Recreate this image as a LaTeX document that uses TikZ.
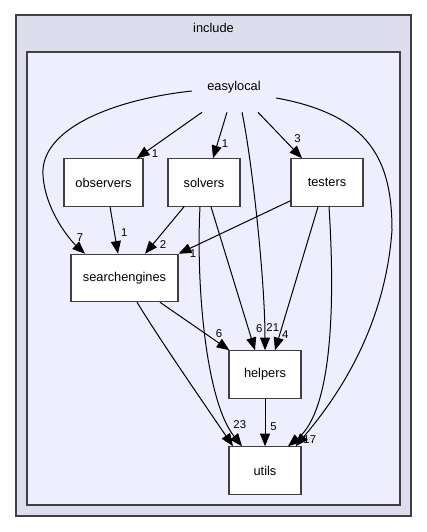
\documentclass[tikz,border=0pt]{standalone}
\usepackage{fontspec}
\setmainfont{Liberation Sans}
\usetikzlibrary{arrows.meta}

\definecolor{frame}{HTML}{404040}
\definecolor{outerfill}{HTML}{DDDDEE}
\definecolor{innerfill}{HTML}{EEEEFF}

\begin{document}
\begin{tikzpicture}[
            x=0.75pt, y=-0.75pt,
            every node/.style={font=\fontsize{9.6}{11.5}\selectfont},
            cluster_outer/.style={rectangle, draw=frame, fill=outerfill, line width=0.9pt, minimum width=296.25pt, minimum height=375.75pt},
            cluster_inner/.style={rectangle, draw=frame, fill=innerfill, line width=0.9pt, minimum width=279.75pt, minimum height=339.75pt},
            dir_block/.style={rectangle, draw=frame, fill=white, line width=0.9pt, text centered, minimum width=54pt, minimum height=35.5pt, inner sep=0pt},
            dir_label/.style={rectangle, minimum width=63pt, minimum height=37.5pt, inner sep=0pt},
            arrow/.style={draw=black, line width=0.75pt, -{Triangle[length=9.5pt, width=7.5pt]}},
            count/.style={font=\fontsize{8.5}{10}\selectfont, inner sep=1pt}
        ]
            \useasboundingbox (0,0) rectangle (427,532);

            % --- Directory clusters ---
            \node[cluster_outer, label={[anchor=north, yshift=-3pt]north:include}] (include) at (213.5,265.5) {};
            \node[cluster_inner] (easylocal_dir) at (213.5,278.5) {};

            % --- Place the directory nodes ---
            \node[dir_label] (easylocal) at (234,87) {easylocal};
            \node[dir_block, minimum width=59.25pt] (observers) at (103.5,182.5) {observers};
            \node[dir_block] (solvers) at (204,182.5) {solvers};
            \node[dir_block] (testers) at (327,182.5) {testers};
            \node[dir_block, minimum width=80.25pt] (searchengines) at (124.5,278) {searchengines};
            \node[dir_block] (helpers) at (265,374.5) {helpers};
            \node[dir_block] (utils) at (265,470.5) {utils};

            % --- Dependencies of easylocal ---
            \draw[arrow] ([xshift=-24pt]easylocal.south) -- node[count, pos=0.9, right=5pt] {1} ([xshift=25pt]observers.north);
            \draw[arrow] ([xshift=-5.25pt]easylocal.south) -- node[count, pos=0.68, right=2pt] {1} ([xshift=6.75pt]solvers.north);
            \draw[arrow] ([xshift=18pt]easylocal.south) -- node[count, pos=0.57, right=7pt] {3} ([xshift=-18.75pt]testers.north);
            \draw[arrow] ([xshift=6pt]easylocal.south) .. controls (252,160) and (265,280) .. node[count, pos=0.9, right=0pt] {21} (helpers.north);
            \draw[arrow] ([yshift=-8.25pt]easylocal.east) .. controls (370,115) and (392,160) .. (392,230) .. controls (385,330) and (335,400) .. node[count, pos=0.95, right=0pt] {17} ([xshift=23pt]utils.north);
            \draw[arrow] ([yshift=-3pt]easylocal.west) .. controls (110,100) and (40,130) .. (43,175) .. controls (45,210) and (70,240) .. node[count, pos=0.7, right=4pt] {7} ([xshift=-29.6pt]searchengines.north);

            % --- Dependencies between subdirectories ---
            \draw[arrow] ([xshift=4.9pt]observers.south) -- node[count, pos=0.55, right=3.75pt] {1} ([xshift=-4.9pt]searchengines.north);
            \draw[arrow] ([xshift=-15pt]solvers.south) -- node[count, pos=0.8, right=4pt] {2} ([xshift=15.4pt]searchengines.north);
            \draw[arrow] ([xshift=5.25pt]solvers.south) -- node[count, pos=0.85, right=4.5pt] {6} ([xshift=-7.5pt]helpers.north);
            \draw[arrow] ([xshift=-3pt]solvers.south) .. controls (196,280) and (205,400) .. node[count, pos=0.87, right=2pt] {23} ([xshift=-17.25pt]utils.north);
            \draw[arrow] ([yshift=4.5pt]testers.south west) -- node[count, pos=0.87, below=1pt] {1} (searchengines.north east);
            \draw[arrow] ([xshift=-6.75pt]testers.south) -- node[count, pos=0.89, right=0.5pt] {4} ([xshift=7.5pt]helpers.north);
            \draw[arrow] ([xshift=1.5pt]testers.south) .. controls (335,300) and (333,410) .. ([xshift=17.25pt]utils.north);
            \draw[arrow] ([xshift=26.6pt]searchengines.south) -- node[count, pos=0.85, above=3pt] {6} ([xshift=0.75pt]helpers.north west);
            \draw[arrow] ([xshift=9.4pt]searchengines.south) .. controls (160,340) and (205,405) .. ([xshift=-24pt]utils.north);
            \draw[arrow] (helpers) -- node[count, pos=0.59, right=2.6pt] {5} (utils);

        \end{tikzpicture}
\end{document}
